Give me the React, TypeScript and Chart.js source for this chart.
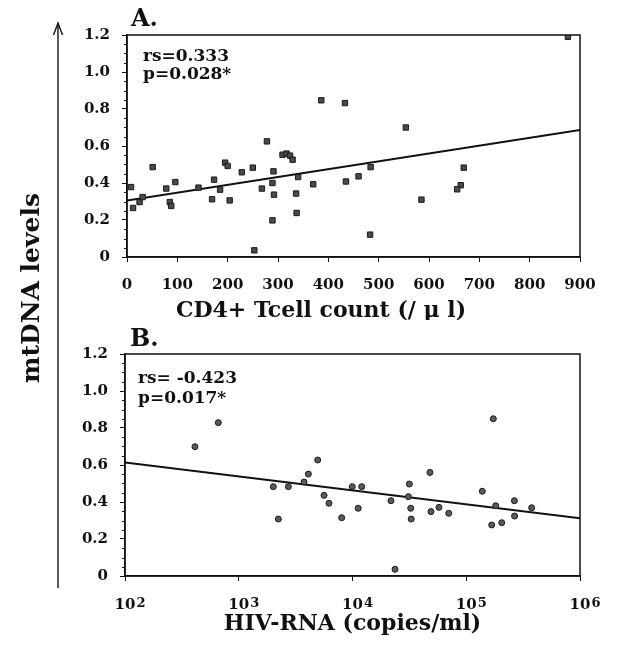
import React, { useEffect, useRef } from 'react';
import { Chart, registerables } from 'chart.js';

Chart.register(...registerables);

// ---------- data ----------
const cd4Counts = [8, 12, 25, 31, 51, 78, 85, 88, 96, 142, 169, 173, 185, 195, 200, 204, 228, 250, 253, 268, 278, 289, 291, 292, 289, 309, 317, 324, 329, 336, 340, 337, 370, 386, 433, 435, 460, 484, 483, 554, 585, 669, 663, 656, 876];
const mtdnaA = [0.378, 0.265, 0.297, 0.324, 0.486, 0.37, 0.297, 0.276, 0.405, 0.375, 0.312, 0.418, 0.364, 0.51, 0.492, 0.306, 0.458, 0.483, 0.036, 0.37, 0.625, 0.4, 0.463, 0.337, 0.198, 0.553, 0.559, 0.548, 0.526, 0.343, 0.432, 0.238, 0.393, 0.847, 0.832, 0.408, 0.436, 0.486, 0.121, 0.7, 0.31, 0.483, 0.388, 0.366, 1.19];
const fitAx = [0, 900];
const fitAy = [0.305, 0.687];

const hivRna = [412, 661, 2014, 2228, 2729, 3750, 4093, 4943, 5623, 6209, 8035, 9954, 11220, 12050, 23660, 21780, 31620, 31000, 32510, 32800, 47970, 48980, 57540, 70150, 138400, 173000, 181600, 167500, 205100, 264900, 266000, 375800];
const mtdnaB = [0.699, 0.829, 0.483, 0.308, 0.483, 0.508, 0.551, 0.627, 0.436, 0.393, 0.315, 0.483, 0.366, 0.483, 0.036, 0.407, 0.497, 0.429, 0.366, 0.308, 0.56, 0.348, 0.371, 0.339, 0.458, 0.85, 0.38, 0.276, 0.288, 0.407, 0.324, 0.369];
const fitBx = [100, 1000000];
const fitBy = [0.614, 0.312];

const yTicks = [0, 0.2, 0.4, 0.6, 0.8, 1.0, 1.2];
const yMinorTicks = [0.05, 0.1, 0.15, 0.25, 0.3, 0.35, 0.45, 0.5, 0.55, 0.65, 0.7, 0.75, 0.85, 0.9, 0.95, 1.05, 1.1, 1.15];
const xTicksA = [0, 100, 200, 300, 400, 500, 600, 700, 800, 900];
const xTicksB = [100, 1000, 10000, 100000, 1000000];
const xTickBaseB = '10';
const xTickExpB = ['2', '3', '4', '5', '6'];

const panelLabelA = 'A.';
const panelLabelB = 'B.';
const statsA = ['rs=0.333', 'p=0.028*'];
const statsB = ['rs= -0.423', 'p=0.017*'];
const xTitleA = 'CD4+ Tcell count (/ μ l)';
const xTitleB = 'HIV-RNA (copies/ml)';
const yTitle = 'mtDNA levels';

const FONT = '"DejaVu Serif", "Liberation Serif", serif';
const INK = '#111111';

type Deco = {
  label: string;
  stats: string[];
  lab: number[];
  st: number[];
  title?: { text: string; dx: number; dy: number };
  exps?: boolean;
};

function decoPlugin(d: Deco) {
  return {
    id: 'deco',
    afterDraw(chart: any) {
      const { ctx, chartArea: a, scales } = chart;
      ctx.save();
      ctx.strokeStyle = INK;
      ctx.lineWidth = 1.5;
      ctx.strokeRect(a.left, a.top, a.right - a.left, a.bottom - a.top);
      ctx.lineWidth = 1;
      const ys = scales.y;
      yMinorTicks.forEach((v) => {
        const py = Math.round(ys.getPixelForValue(v)) + 0.5;
        ctx.beginPath();
        ctx.moveTo(a.left - 3, py);
        ctx.lineTo(a.left, py);
        ctx.stroke();
      });
      ctx.fillStyle = INK;
      ctx.textAlign = 'left';
      ctx.textBaseline = 'alphabetic';
      ctx.font = `bold 24px ${FONT}`;
      ctx.fillText(d.label, a.left + d.lab[0], a.top + d.lab[1]);
      ctx.font = `bold 17px ${FONT}`;
      ctx.textBaseline = 'middle';
      d.stats.forEach((s, i) => ctx.fillText(s, a.left + d.st[0], a.top + d.st[1] + i * d.st[2]));
      if (d.title) {
        ctx.font = `bold 22px ${FONT}`;
        ctx.textAlign = 'center';
        ctx.fillText(d.title.text, a.left + d.title.dx, a.bottom + d.title.dy);
      }
      if (d.exps) {
        ctx.font = `bold 15px ${FONT}`;
        const w = ctx.measureText(xTickBaseB).width;
        ctx.font = `bold 13px ${FONT}`;
        ctx.textAlign = 'left';
        ctx.textBaseline = 'alphabetic';
        xTicksB.forEach((v, i) => {
          const px = scales.x.getPixelForValue(v);
          ctx.fillText(xTickExpB[i], px + w / 2 + 1, a.bottom + 30.5);
        });
      }
      ctx.restore();
    },
  };
}

function baseY(width: number) {
  return {
    type: 'linear',
    min: 0,
    max: 1.2,
    afterFit: (s: any) => { s.width = width; },
    afterBuildTicks: (s: any) => { s.ticks = yTicks.map((v) => ({ value: v })); },
    ticks: {
      padding: 12,
      color: INK,
      font: { family: FONT, weight: 'bold', size: 15 },
      callback: (v: any) => (Number(v) === 0 ? '0' : Number(v).toFixed(1)),
    },
    grid: { drawOnChartArea: false, drawTicks: true, tickLength: 5, color: INK, lineWidth: 1 },
    border: { display: true, color: INK, width: 1.5 },
  };
}

function makeConfigA() {
  return {
    type: 'scatter',
    data: {
      datasets: [
        {
          label: 'CD4',
          data: cd4Counts.map((x, i) => ({ x, y: mtdnaA[i] })),
          pointStyle: 'rect',
          pointRadius: 3.8,
          backgroundColor: '#4a4a4a',
          borderColor: '#1a1a1a',
          borderWidth: 1,
        },
        {
          label: 'fit',
          data: fitAx.map((x, i) => ({ x, y: fitAy[i] })),
          showLine: true,
          pointRadius: 0,
          borderColor: INK,
          borderWidth: 2,
        },
      ],
    },
    options: {
      animation: false,
      responsive: false,
      maintainAspectRatio: false,
      layout: { padding: { left: 0, top: 35, right: 37, bottom: 0 } },
      plugins: { legend: { display: false }, tooltip: { enabled: false } },
      scales: {
        x: {
          type: 'linear',
          min: 0,
          max: 900,
          afterFit: (s: any) => { s.height = 63; },
          afterBuildTicks: (s: any) => { s.ticks = xTicksA.map((v) => ({ value: v })); },
          ticks: { padding: 14, color: INK, font: { family: FONT, weight: 'bold', size: 15 }, maxRotation: 0, autoSkip: false },
          grid: { drawOnChartArea: false, drawTicks: true, tickLength: 5, color: INK },
          border: { display: true, color: INK, width: 1.5 },
          title: { display: false, text: xTitleA },
        },
        y: baseY(127),
      },
    },
    plugins: [decoPlugin({ label: panelLabelA, stats: statsA, lab: [4, -9], st: [16, 21.5, 18], title: { text: xTitleA, dx: 194, dy: 54 } })],
  };
}

function makeConfigB() {
  return {
    type: 'scatter',
    data: {
      datasets: [
        {
          label: 'HIV',
          data: hivRna.map((x, i) => ({ x, y: mtdnaB[i] })),
          pointStyle: 'circle',
          pointRadius: 3,
          backgroundColor: '#5a5a5a',
          borderColor: '#1a1a1a',
          borderWidth: 1,
        },
        {
          label: 'fit',
          data: fitBx.map((x, i) => ({ x, y: fitBy[i] })),
          showLine: true,
          pointRadius: 0,
          borderColor: INK,
          borderWidth: 2,
        },
      ],
    },
    options: {
      animation: false,
      responsive: false,
      maintainAspectRatio: false,
      layout: { padding: { left: 0, top: 34, right: 37, bottom: 0 } },
      plugins: { legend: { display: false }, tooltip: { enabled: false } },
      scales: {
        x: {
          type: 'logarithmic',
          min: 100,
          max: 1000000,
          afterFit: (s: any) => { s.height = 70; },
          afterBuildTicks: (s: any) => { s.ticks = xTicksB.map((v) => ({ value: v })); },
          ticks: {
            padding: 15,
            color: INK,
            font: { family: FONT, weight: 'bold', size: 15 },
            maxRotation: 0,
            autoSkip: false,
            callback: () => xTickBaseB,
          },
          grid: { drawOnChartArea: false, drawTicks: true, tickLength: 5, color: INK },
          border: { display: true, color: INK, width: 1.5 },
          title: { display: true, text: xTitleB, color: INK, font: { family: FONT, weight: 'bold', size: 22 }, padding: { top: 0, bottom: 9 } },
        },
        y: baseY(125),
      },
    },
    plugins: [decoPlugin({ label: panelLabelB, stats: statsB, lab: [5, -8], st: [13, 25, 19.5], exps: true })],
  };
}

function Panel({ make, top, height }: { make: () => any; top: number; height: number }) {
  const ref = useRef<HTMLCanvasElement | null>(null);
  useEffect(() => {
    if (!ref.current) return;
    const chart = new Chart(ref.current, make());
    return () => chart.destroy();
  }, [make]);
  return (
    <canvas
      ref={ref}
      width={617}
      height={height}
      style={{ position: 'absolute', left: 0, top, width: 617, height }}
    />
  );
}

export default function App() {
  return (
    <div style={{ position: 'absolute', left: 0, top: 0, width: 617, height: 646, background: '#fff', overflow: 'hidden' }}>
      <Panel make={makeConfigA} top={0} height={320} />
      <Panel make={makeConfigB} top={320} height={326} />
      <svg width={100} height={646} style={{ position: 'absolute', left: 0, top: 0 }}>
        <line x1={58} y1={588} x2={58} y2={24} stroke={INK} strokeWidth={1.4} />
        <polyline points="53.5,35 58,23 62.5,35" fill="none" stroke={INK} strokeWidth={1.4} />
        <text
          transform="translate(39,288) rotate(-90)"
          textAnchor="middle"
          fontFamily="DejaVu Serif"
          fontWeight="bold"
          fontSize={25}
          fill={INK}
        >
          {yTitle}
        </text>
      </svg>
    </div>
  );
}
